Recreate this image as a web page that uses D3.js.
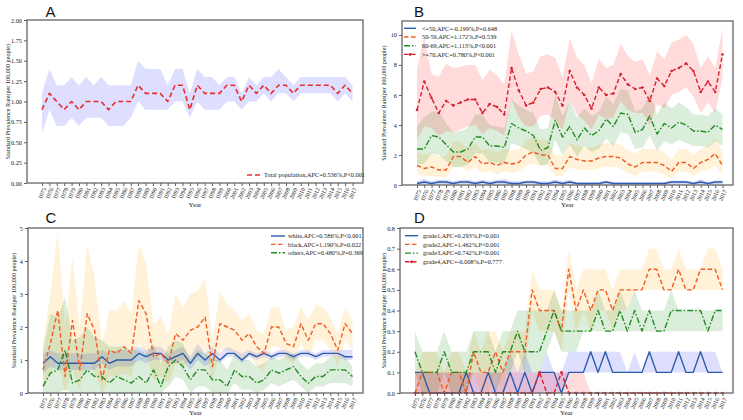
<!DOCTYPE html>
<html><head><meta charset="utf-8">
<script src="https://cdn.jsdelivr.net/npm/d3@7"></script>
<style>body{margin:0;background:#fff} svg{display:block}</style>
</head><body><svg id="c" width="743" height="420"></svg>
<script>
const years = [1975,1976,1977,1978,1979,1980,1981,1982,1983,1984,1985,1986,1987,1988,1989,1990,1991,1992,1993,1994,1995,1996,1997,1998,1999,2000,2001,2002,2003,2004,2005,2006,2007,2008,2009,2010,2011,2012,2013,2014,2015,2016,2017];

// Panel A
const ticksA = [0,0.25,0.5,0.75,1.0,1.25,1.5,1.75,2.0];
const totalMean  = [0.9,1.1,1.0,0.9,1.0,0.9,1.0,1.0,1.0,0.9, 1.0,1.0,1.0,1.2,1.1,1.1,1.1,1.0,1.2,1.2, 0.9,1.2,1.1,1.1,1.1,1.2,1.2,1.0,1.2,1.1, 1.2,1.1,1.2,1.2,1.1,1.2,1.2,1.2,1.2,1.2, 1.1,1.2,1.1];
const totalUpper = [1.1,1.4,1.2,1.2,1.3,1.2,1.3,1.2,1.3,1.2, 1.2,1.2,1.2,1.5,1.4,1.4,1.4,1.2,1.4,1.4, 1.1,1.4,1.3,1.3,1.2,1.3,1.3,1.1,1.3,1.2, 1.3,1.3,1.4,1.3,1.2,1.3,1.3,1.3,1.3,1.3, 1.3,1.3,1.2];
const totalLower = [0.6,0.9,0.7,0.7,0.8,0.7,0.8,0.8,0.8,0.7, 0.7,0.7,0.8,1.0,0.9,0.9,0.9,0.9,1.0,1.0, 0.8,1.0,0.9,0.9,0.9,1.0,1.0,0.9,1.0,1.0, 1.1,1.0,1.1,1.1,1.0,1.1,1.1,1.1,1.1,1.1, 1.0,1.1,1.0];

// Panel B
const ticksB = [0,2,4,6,8,10];
const b50Mean  = [0.1,0.2,0.1,0.2,0.2,0.1,0.2,0.2,0.1,0.2, 0.1,0.2,0.2,0.1,0.1,0.2,0.2,0.1,0.1,0.2, 0.1,0.2,0.1,0.1,0.1,0.1,0.2,0.1,0.1,0.1, 0.1,0.1,0.1,0.1,0.1,0.2,0.2,0.2,0.1,0.2, 0.1,0.2,0.2];
const b50Upper = [0.25,0.4,0.25,0.35,0.35,0.25,0.35,0.35,0.25,0.35, 0.25,0.35,0.4,0.25,0.25,0.3,0.3,0.25,0.25,0.35, 0.25,0.35,0.2,0.2,0.2,0.2,0.3,0.2,0.2,0.2, 0.2,0.2,0.2,0.2,0.2,0.3,0.3,0.3,0.2,0.4, 0.2,0.3,0.3];
const b50Lower = [0,0.05,0,0.05,0.05,0,0.05,0.05,0,0.05, 0,0.05,0.05,0,0,0.05,0.05,0,0,0.05, 0,0.05,0,0,0,0,0.05,0,0,0, 0,0,0,0,0,0.05,0.05,0.05,0,0.05, 0,0.05,0.05];
const b5059Mean  = [1.3,1.1,1.2,1.0,1.0,1.9,1.9,1.5,1.9,1.4, 1.5,1.3,1.5,1.4,1.5,2.0,2.2,2.0,2.0,1.1, 1.1,1.9,1.7,1.6,1.6,1.8,1.9,1.9,1.8,1.4, 1.2,1.5,1.5,1.5,1.3,0.9,1.5,1.5,1.1,1.5, 1.7,2.1,1.3];
const b5059Upper = [2.2,2.0,2.1,1.9,1.9,2.9,2.9,2.4,2.8,2.3, 2.4,2.2,2.4,2.3,2.4,3.0,3.2,3.0,3.0,2.0, 2.0,2.8,2.6,2.5,2.5,2.7,2.8,2.8,2.7,2.3, 2.1,2.4,2.4,2.4,2.2,1.7,2.4,2.4,2.0,2.4, 2.6,3.1,2.2];
const b5059Lower = [0.7,0.6,0.6,0.5,0.5,1.2,1.2,0.9,1.2,0.8, 0.9,0.7,0.9,0.8,0.9,1.3,1.4,1.3,1.3,0.6, 0.6,1.2,1.0,1.0,1.0,1.1,1.2,1.2,1.1,0.8, 0.6,0.9,0.9,0.9,0.7,0.4,0.9,0.9,0.6,0.9, 1.0,1.3,0.7];
const b6069Mean  = [2.4,2.4,3.3,3.2,2.7,2.2,2.2,2.4,3.2,3.2, 2.6,2.6,2.5,4.1,3.8,3.6,3.3,2.3,2.5,4.3, 3.2,3.9,3.0,3.8,3.3,3.6,4.4,3.9,4.8,4.7, 3.5,3.7,4.6,3.4,4.1,3.8,4.2,4.0,3.6,3.6, 3.5,4.0,3.7];
const b6069Upper = [3.9,4.5,4.9,4.9,4.1,3.5,3.6,3.8,4.7,4.7, 4.0,3.9,3.8,5.7,5.3,5.0,4.8,3.7,3.8,6.0, 4.6,5.6,4.5,5.1,4.6,4.9,5.9,5.4,6.4,6.3, 4.9,5.1,6.1,4.7,5.5,5.1,5.5,5.2,4.7,4.7, 4.6,5.1,4.7];
const b6069Lower = [1.4,1.4,2.1,2.0,1.6,1.2,1.2,1.4,2.1,2.1, 1.5,1.5,1.4,2.8,2.6,2.4,2.1,1.3,1.4,3.0, 2.0,2.7,1.9,2.6,2.2,2.4,3.1,2.6,3.5,3.4, 2.4,2.5,3.3,2.3,2.9,2.7,3.0,2.8,2.6,2.6, 2.5,2.9,2.6];
const b70Mean  = [5.0,6.9,5.8,4.8,5.6,5.3,5.5,5.7,5.7,4.8, 5.4,5.2,4.7,7.8,6.3,5.3,5.5,6.4,6.5,6.2, 5.3,7.6,6.5,6.0,5.1,6.5,6.0,6.1,7.4,6.7, 6.4,6.5,5.6,7.1,6.6,7.6,7.8,8.1,7.6,6.2, 6.9,6.2,8.7];
const b70Upper = [7.7,9.9,7.4,7.2,8.1,7.8,7.9,8.0,8.0,7.0, 7.7,7.3,6.7,10.3,8.7,7.4,7.6,8.6,8.7,8.5, 7.2,9.8,8.5,8.0,6.8,8.4,7.8,8.0,9.4,8.6, 8.2,8.4,7.3,8.9,8.4,9.5,9.7,10.0,9.4,7.8, 8.6,7.8,10.5];
const b70Lower = [3.0,3.9,3.8,3.3,3.6,3.5,3.7,3.9,4.0,3.4, 3.8,3.6,3.3,5.7,4.5,3.9,3.9,4.6,4.7,4.3, 3.7,5.6,4.7,4.3,3.7,4.7,4.4,4.5,5.6,5.0, 4.8,4.8,4.0,5.4,5.1,6.0,6.2,6.5,5.9,4.8, 5.5,4.8,7.1];

// Panel C
const ticksC = [0,1,2,3,4,5];
const whiteMean  = [0.9,1.1,0.9,0.9,0.9,0.9,0.9,0.9,1.1,0.9, 1.0,1.0,1.0,1.2,1.1,1.2,1.2,1.0,1.1,1.2, 0.9,1.2,1.0,1.2,1.0,1.2,1.2,1.0,1.2,1.1, 1.2,1.1,1.2,1.2,1.1,1.2,1.2,1.1,1.2,1.2, 1.2,1.1,1.1];
const whiteUpper = [1.2,1.3,1.2,1.2,1.2,1.2,1.2,1.2,1.3,1.2, 1.3,1.3,1.3,1.4,1.3,1.4,1.4,1.2,1.3,1.4, 1.1,1.5,1.2,1.4,1.2,1.4,1.3,1.2,1.3,1.2, 1.3,1.2,1.3,1.3,1.2,1.3,1.3,1.2,1.3,1.3, 1.3,1.3,1.3];
const whiteLower = [0.6,0.8,0.7,0.7,0.7,0.7,0.7,0.7,0.9,0.7, 0.8,0.8,0.8,1.0,0.9,1.0,1.0,0.9,0.9,1.0, 0.7,1.0,0.8,1.0,0.9,1.1,1.1,0.9,1.1,1.0, 1.1,1.0,1.1,1.1,1.0,1.1,1.1,1.0,1.1,1.1, 1.1,1.0,1.0];
const blackMean  = [0.7,1.5,2.5,0.5,2.2,0.7,2.4,1.9,0.4,1.3, 1.2,1.4,1.2,2.8,2.4,1.1,1.2,0.9,1.8,1.6, 1.9,2.0,2.3,0.8,2.1,2.0,1.9,1.6,1.8,1.4, 1.2,2.0,2.0,1.5,1.4,2.1,1.6,2.1,2.1,1.8, 1.3,2.1,1.8];
const blackUpper = [1.5,3.0,4.9,2.0,4.1,2.0,4.5,3.5,1.5,2.5, 2.5,2.8,2.4,4.5,3.9,2.1,2.3,1.8,3.0,2.6, 3.0,3.1,3.5,1.6,3.1,2.7,2.5,2.2,2.4,1.9, 1.8,2.6,2.6,1.9,2.0,2.6,2.2,2.7,2.6,2.3, 1.8,2.6,2.2];
const blackLower = [0.1,0.6,1.0,0.0,0.7,0.1,1.0,0.6,0.0,0.5, 0.5,0.6,0.5,1.5,1.2,0.4,0.5,0.3,0.9,0.8, 1.0,1.1,1.3,0.3,1.3,1.3,1.2,1.0,1.2,0.8, 0.7,1.4,1.4,1.0,0.9,1.5,1.1,1.6,1.6,1.3, 0.8,1.6,1.3];
const othersMean  = [0.2,0.6,0.7,1.3,0.3,0.4,0.7,0.5,0.5,0.3, 0.5,0.4,0.3,0.5,0.3,0.7,0.2,0.8,1.0,0.8, 0.4,0.7,0.7,0.4,0.4,0.2,0.7,0.5,0.5,0.3, 0.4,0.7,0.6,0.7,0.8,0.5,0.3,0.5,0.5,0.7, 0.7,0.7,0.5];
const othersUpper = [1.3,2.4,2.3,2.9,1.6,1.7,2.0,1.7,1.6,1.4, 1.4,1.4,1.3,1.3,1.2,1.5,0.9,1.4,1.6,1.5, 1.0,1.3,1.2,1.0,1.0,0.7,1.2,1.0,1.0,0.8, 0.9,1.1,1.0,1.1,1.2,0.9,0.7,0.9,0.9,1.1, 1.1,1.1,0.8];
const othersLower = [0,0,0,0.1,0,0,0,0,0,0, 0,0,0,0,0,0,0,0.2,0.5,0.4, 0,0.2,0.2,0,0,0,0.3,0.1,0.1,0, 0.1,0.3,0.2,0.3,0.4,0.2,0,0.2,0.2,0.3, 0.3,0.3,0.2];

// Panel D
const ticksD = [0,0.1,0.2,0.3,0.4,0.5,0.6,0.7,0.8];
const g1Mean  = [0.1,0.1,0,0,0,0,0,0.1,0,0, 0.1,0,0,0.1,0,0.1,0,0.1,0.1,0.1, 0,0.1,0.1,0.1,0.2,0.1,0.2,0.1,0.1,0.1, 0.1,0.1,0.2,0.1,0.1,0.1,0.2,0.1,0.1,0.2, 0.1,0.1,0.1];
const g1Upper = [0.1,0.1,0.1,0.1,0.1,0.1,0.1,0.1,0.1,0.1, 0.1,0.1,0.1,0.2,0.1,0.2,0.1,0.1,0.2,0.1, 0.1,0.2,0.2,0.2,0.2,0.2,0.2,0.2,0.2,0.1, 0.2,0.1,0.2,0.2,0.2,0.2,0.2,0.2,0.2,0.2, 0.2,0.2,0.1];
const g1Lower = [0,0,0,0,0,0,0,0,0,0, 0,0,0,0,0,0,0,0,0,0, 0,0.1,0.1,0.1,0.1,0.1,0.1,0.1,0.1,0.1, 0.1,0.1,0.1,0.1,0.1,0.1,0.1,0.1,0.1,0.1, 0.1,0.1,0.1];
const g2Mean  = [0,0.1,0.1,0.1,0,0.1,0.1,0,0.2,0.1, 0.1,0.2,0.1,0.2,0.2,0.2,0.5,0.4,0.4,0.4, 0.3,0.6,0.4,0.5,0.4,0.5,0.5,0.4,0.5,0.5, 0.5,0.5,0.6,0.6,0.5,0.5,0.6,0.5,0.5,0.6, 0.6,0.6,0.5];
const g2Upper = [0.1,0.2,0.2,0.2,0.1,0.2,0.2,0.1,0.3,0.2, 0.3,0.3,0.2,0.3,0.3,0.3,0.6,0.5,0.5,0.5, 0.4,0.7,0.5,0.6,0.6,0.6,0.6,0.5,0.6,0.6, 0.6,0.6,0.7,0.7,0.6,0.6,0.7,0.6,0.6,0.6, 0.7,0.7,0.6];
const g2Lower = [0,0,0,0,0,0,0,0,0.1,0, 0,0.1,0,0.1,0.1,0.1,0.4,0.3,0.3,0.3, 0.2,0.5,0.3,0.4,0.3,0.4,0.4,0.3,0.4,0.4, 0.5,0.5,0.5,0.5,0.5,0.5,0.5,0.5,0.5,0.5, 0.5,0.5,0.5];
const g3Mean  = [0.2,0.1,0.1,0.1,0.2,0.1,0.1,0.1,0.2,0.2, 0.2,0.1,0.2,0.2,0.3,0.2,0.2,0.2,0.3,0.4, 0.3,0.3,0.3,0.3,0.3,0.4,0.3,0.3,0.4,0.3, 0.4,0.3,0.4,0.3,0.3,0.4,0.4,0.4,0.4,0.4, 0.3,0.4,0.4];
const g3Upper = [0.3,0.2,0.2,0.2,0.3,0.2,0.2,0.2,0.3,0.3, 0.3,0.2,0.3,0.3,0.4,0.4,0.4,0.4,0.4,0.5, 0.4,0.4,0.4,0.4,0.4,0.5,0.4,0.4,0.5,0.4, 0.5,0.4,0.4,0.4,0.4,0.5,0.4,0.4,0.4,0.4, 0.4,0.4,0.4];
const g3Lower = [0.1,0,0,0,0.1,0,0,0,0.1,0.1, 0.1,0,0.1,0.1,0.2,0.1,0.1,0.1,0.2,0.3, 0.2,0.2,0.2,0.3,0.3,0.3,0.3,0.3,0.3,0.3, 0.3,0.3,0.3,0.3,0.3,0.3,0.3,0.3,0.3,0.3, 0.3,0.3,0.3];
const g4Mean  = [0,0,0,0,0,0,0,0,0,0, 0,0,0,0,0,0,0,0.1,0,0, 0.1,0,0,0,0,0,0,0,0,0, 0,0,0,0,0,0,0,0,0,0, 0,0,0];
const g4Upper = [0.1,0.1,0.1,0.1,0.1,0.1,0.1,0.1,0.1,0.1, 0.1,0.1,0.1,0.1,0.1,0.1,0.1,0.1,0.1,0.1, 0.1,0.1,0.1,0.1,0,0,0,0,0,0, 0,0,0,0,0,0,0,0,0,0, 0,0,0];
const g4Lower = [0,0,0,0,0,0,0,0,0,0, 0,0,0,0,0,0,0,0,0,0, 0,0,0,0,0,0,0,0,0,0, 0,0,0,0,0,0,0,0,0,0, 0,0,0];

const legendA = ["Total population,APC=0.536%,P<0.001"];
const legendB = ["<=50,APC=-0.199%,P=0.648","50-59,APC=1.172%,P=0.539","60-69,APC=1.113%,P<0.001",">=70,APC=0.780%,P<0.001"];
const legendC = ["white,APC=0.586%,P<0.001","black,APC=1.190%,P=0.022","others,APC=0.480%,P=0.369"];
const legendD = ["grade1,APC=0.293%,P<0.001","grade2,APC=1.462%,P<0.001","grade3,APC=0.742%,P<0.001","grade4,APC=-0.008%,P=0.777"];

const BLUE="#2a5caa", ORANGE="#f25a23", GREEN="#228b22", RED="#d8202c", REDA="#ec2b2b";
const STY = {
  solid:{dash:null}, dashed:{dash:"4.5,2.5"}, dashdot:{dash:"6,2,1.5,2"}, dashedA:{dash:"5,3"}
};

const svg = d3.select("#c");
const serif = "'Liberation Serif','Times New Roman',serif";
const sans = "'Liberation Sans',Arial,sans-serif";

function drawPanel(p) {
  const x = d3.scaleLinear().domain([years[0], years[years.length-1]]).range([p.left+15, p.right-10.5]);
  const y = d3.scaleLinear().domain(p.yDomain).range([p.bottom, p.top]);
  const g = svg.append("g");

  p.series.forEach(s => {
    const area = d3.area().x((d,i)=>x(years[i])).y0((d,i)=>y(s.lower[i])).y1((d,i)=>y(s.upper[i]));
    g.append("path").datum(s.mean).attr("d", area).attr("fill", s.band).attr("fill-opacity", s.bandOp);
  });
  p.series.forEach(s => {
    const line = d3.line().x((d,i)=>x(years[i])).y(d=>y(d));
    g.append("path").datum(s.mean).attr("d", line).attr("fill","none")
      .attr("stroke", s.color).attr("stroke-width", s.width||1.4)
      .attr("stroke-dasharray", s.dash).attr("stroke-linejoin","round");
    if (s.marker) {
      g.selectAll(null).data(s.mean).enter().append("circle")
        .attr("cx",(d,i)=>x(years[i])).attr("cy",d=>y(d)).attr("r",1.3).attr("fill",s.color);
    }
  });

  const xa = g.append("g").attr("transform",`translate(0,${p.bottom})`)
    .call(d3.axisBottom(x).tickValues(years).tickFormat(d3.format("d")).tickSize(3));
  xa.select(".domain").remove();
  xa.selectAll("line").attr("stroke","#333").attr("stroke-width",0.8);
  xa.selectAll("text").attr("font-family",serif).attr("font-size",5.9).attr("fill","#222")
    .attr("text-anchor","end").attr("y",null)
    .attr("transform","translate(2,5) rotate(-65)").attr("dy","0.35em");

  const ya = g.append("g").attr("transform",`translate(${p.left},0)`)
    .call(d3.axisLeft(y).tickValues(p.ticks).tickFormat(d3.format(p.fmt)).tickSize(3).tickPadding(2));
  ya.select(".domain").remove();
  ya.selectAll("line").attr("stroke","#333").attr("stroke-width",0.8);
  ya.selectAll("text").attr("font-family",serif).attr("font-size",6.3).attr("fill","#222");

  g.append("rect").attr("x",p.left).attr("y",p.top).attr("width",p.right-p.left).attr("height",p.bottom-p.top)
    .attr("fill","none").attr("stroke","#666").attr("stroke-width",1.3);

  g.append("text").attr("x",(p.left+p.right)/2).attr("y",p.yearY).attr("text-anchor","middle")
    .attr("font-family",serif).attr("font-size",7).attr("fill","#222").text("Year");
  g.append("text").attr("transform",`translate(${p.yLabX},${(p.top+p.bottom)/2}) rotate(-90)`)
    .attr("text-anchor","middle").attr("dy","0.35em").attr("font-family",serif).attr("font-size",6.2).attr("fill","#222")
    .text("Standard Prevalence Rate(per 100,000 people)");
  g.append("text").attr("x",p.titleX).attr("y",p.titleY).attr("font-family",sans).attr("font-size",15).attr("fill","#111").text(p.title);

  p.series.forEach((s,i) => {
    const ly = p.leg.y0 + i*p.leg.dy;
    g.append("line").attr("x1",p.leg.x0).attr("x2",p.leg.x1).attr("y1",ly).attr("y2",ly)
      .attr("stroke",s.color).attr("stroke-width",1.4).attr("stroke-dasharray",s.dash);
    if (s.marker) g.append("circle").attr("cx",(p.leg.x0+p.leg.x1)/2).attr("cy",ly).attr("r",1.4).attr("fill",s.color);
    g.append("text").attr("x",p.leg.tx).attr("y",ly).attr("dy","0.35em").attr("font-family",serif)
      .attr("font-size",6.3).attr("fill","#222").text(p.labels[i]);
  });
}

drawPanel({title:"A", titleX:45.5, titleY:16.5, left:27, right:363, top:20, bottom:183, yDomain:[0,2], ticks:ticksA, fmt:".2f",
  yearY:207, yLabX:7.5, labels:legendA, leg:{x0:247,x1:260,tx:264,y0:175,dy:8.5},
  series:[{mean:totalMean,upper:totalUpper,lower:totalLower,color:REDA,band:"#0000ff",bandOp:0.13,dash:STY.dashedA.dash,width:1.6}]});

drawPanel({title:"B", titleX:414, titleY:16.5, left:402, right:733, top:21, bottom:185, yDomain:[0,10.93], ticks:ticksB, fmt:"d",
  yearY:207, yLabX:383.5, labels:legendB, leg:{x0:404,x1:416,tx:422,y0:28.3,dy:8.7},
  series:[
    {mean:b50Mean,upper:b50Upper,lower:b50Lower,color:BLUE,band:"#0000ff",bandOp:0.15,dash:null},
    {mean:b5059Mean,upper:b5059Upper,lower:b5059Lower,color:ORANGE,band:"#ffa500",bandOp:0.15,dash:STY.dashed.dash},
    {mean:b6069Mean,upper:b6069Upper,lower:b6069Lower,color:GREEN,band:"#008000",bandOp:0.14,dash:STY.dashdot.dash},
    {mean:b70Mean,upper:b70Upper,lower:b70Lower,color:RED,band:"#ff0000",bandOp:0.14,dash:STY.dashed.dash,marker:true}
  ]});

drawPanel({title:"C", titleX:45.5, titleY:223.3, left:28, right:363, top:228, bottom:393, yDomain:[0,5], ticks:ticksC, fmt:"d",
  yearY:415, yLabX:14, labels:legendC, leg:{x0:271,x1:285,tx:288,y0:236,dy:8.35},
  series:[
    {mean:whiteMean,upper:whiteUpper,lower:whiteLower,color:BLUE,band:"#0000ff",bandOp:0.13,dash:null},
    {mean:blackMean,upper:blackUpper,lower:blackLower,color:ORANGE,band:"#ffa500",bandOp:0.15,dash:STY.dashed.dash},
    {mean:othersMean,upper:othersUpper,lower:othersLower,color:GREEN,band:"#008000",bandOp:0.14,dash:STY.dashdot.dash}
  ]});

drawPanel({title:"D", titleX:414, titleY:222.7, left:400, right:733, top:228, bottom:393, yDomain:[0,0.8], ticks:ticksD, fmt:".1f",
  yearY:415, yLabX:384, labels:legendD, leg:{x0:405,x1:418,tx:423,y0:235.7,dy:8.7},
  series:[
    {mean:g1Mean,upper:g1Upper,lower:g1Lower,color:BLUE,band:"#0000ff",bandOp:0.13,dash:null},
    {mean:g2Mean,upper:g2Upper,lower:g2Lower,color:ORANGE,band:"#ffa500",bandOp:0.15,dash:STY.dashed.dash},
    {mean:g3Mean,upper:g3Upper,lower:g3Lower,color:GREEN,band:"#008000",bandOp:0.14,dash:STY.dashdot.dash},
    {mean:g4Mean,upper:g4Upper,lower:g4Lower,color:RED,band:"#ff0000",bandOp:0.14,dash:STY.dashed.dash,marker:true}
  ]});
</script></body></html>
